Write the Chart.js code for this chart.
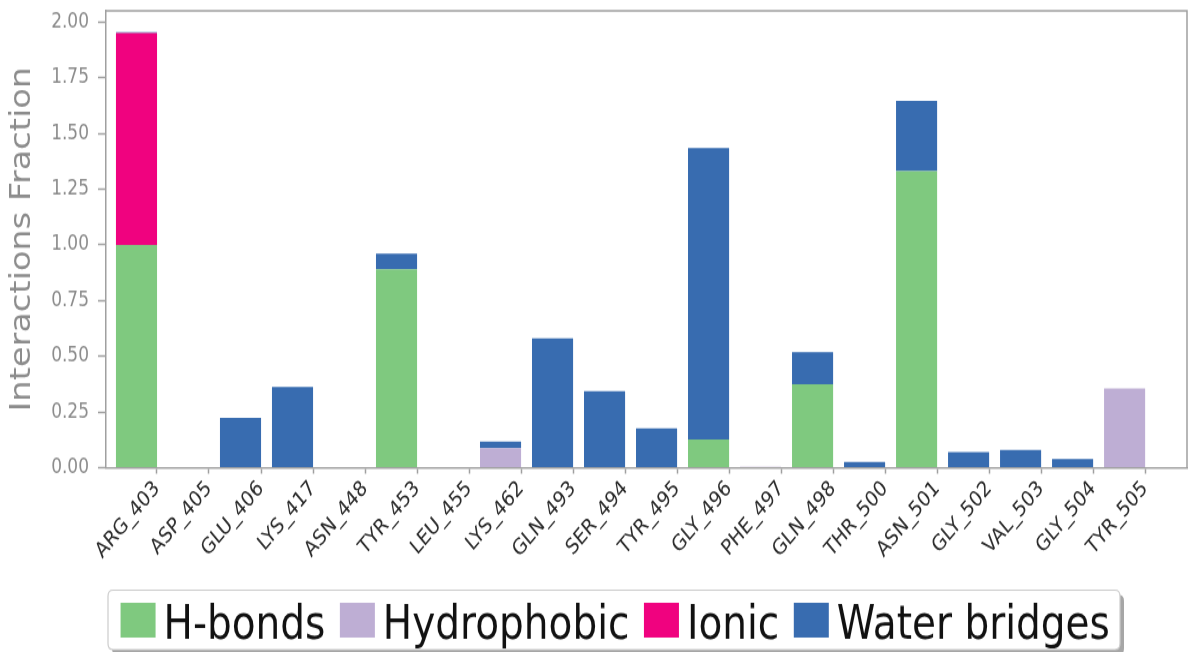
<!DOCTYPE html>
<html>
<head>
<meta charset="utf-8">
<script src="https://cdn.jsdelivr.net/npm/chart.js@4.4.1/dist/chart.umd.min.js"></script>
<style>
  html, body { margin: 0; padding: 0; background: #ffffff; overflow: hidden; }
  #wrap {
    position: absolute; left: 0; top: 0;
    width: 1190px; height: 543px;
    transform-origin: 0 0;
    transform: scaleY(1.2007);
  }
</style>
</head>
<body>
<div id="wrap"><canvas id="chart"></canvas></div>
<script>
// Protein residues in contact with the ligand
const residues = ['ARG_403', 'ASP_405', 'GLU_406', 'LYS_417', 'ASN_448', 'TYR_453', 'LEU_455',
  'LYS_462', 'GLN_493', 'SER_494', 'TYR_495', 'GLY_496', 'PHE_497', 'GLN_498', 'THR_500',
  'ASN_501', 'GLY_502', 'VAL_503', 'GLY_504', 'TYR_505'];

// Interaction fractions per residue, one list per interaction type
const hBonds       = [1.00, 0, 0, 0, 0, 0.89, 0, 0, 0, 0, 0, 0.127, 0, 0.375, 0, 1.331, 0, 0, 0, 0];
const hydrophobic  = [0, 0, 0, 0, 0, 0, 0, 0.087, 0, 0, 0, 0, 0.004, 0, 0, 0, 0, 0, 0, 0.355];
const ionic        = [0.95, 0, 0, 0, 0, 0, 0, 0, 0, 0, 0, 0, 0, 0, 0, 0, 0, 0, 0, 0];
const waterBridges = [0.005, 0, 0.223, 0.362, 0, 0.07, 0, 0.03, 0.58, 0.343, 0.176, 1.308, 0, 0.144, 0.025, 0.315, 0.07, 0.079, 0.039, 0];

// Y-axis tick values
const yTickValues = [0, 0.25, 0.5, 0.75, 1.0, 1.25, 1.5, 1.75, 2.0];

const seriesNames  = ['H-bonds', 'Hydrophobic', 'Ionic', 'Water bridges'];
const seriesColors = ['#7fc97f', '#beaed4', '#f0027f', '#386cb0'];
const seriesValues = [hBonds, hydrophobic, ionic, waterBridges];

const AXIS_GREY = '#a0a0a0';
const FONT = "'DejaVu Sans', 'Liberation Sans', sans-serif";
const LEGEND_FONT_SIZE = 39;
const LEGEND_PAD = 38;
const SWATCH = { w: 35, h: 29, gap: 8 };

const datasets = seriesNames.map((name, s) => ({
  label: name,
  data: residues.map((_, i) => ({ x: i, y: seriesValues[s][i] })),
  backgroundColor: seriesColors[s],
  borderWidth: 0,
  barPercentage: 0.79,
  categoryPercentage: 1.0
}));

function roundRect(ctx, x, y, w, h, r) {
  ctx.beginPath();
  ctx.moveTo(x + r, y);
  ctx.lineTo(x + w - r, y);
  ctx.quadraticCurveTo(x + w, y, x + w, y + r);
  ctx.lineTo(x + w, y + h - r);
  ctx.quadraticCurveTo(x + w, y + h, x + w - r, y + h);
  ctx.lineTo(x + r, y + h);
  ctx.quadraticCurveTo(x, y + h, x, y + h - r);
  ctx.lineTo(x, y + r);
  ctx.quadraticCurveTo(x, y, x + r, y);
  ctx.closePath();
}

// Axes frame (top/right spines), legend box and legend colour swatches
const framePlugin = {
  id: 'frame',
  afterLayout(chart) {
    // keep the legend on one row, centred on the boxed area
    const lg = chart.legend;
    lg.left = 60;
    lg.right = 1194;
    lg.width = lg.right - lg.left;
    lg.top = chart.height - 79;
  },
  beforeDraw(chart) {
    const ctx = chart.ctx;
    const x = 108, w = 1012, y = chart.height - 51.5, h = 49.5;
    ctx.save();
    ctx.fillStyle = 'rgba(0,0,0,0.35)';
    roundRect(ctx, x + 4, y + 4, w, h, 5);
    ctx.fill();
    ctx.fillStyle = '#ffffff';
    roundRect(ctx, x, y, w, h, 5);
    ctx.fill();
    ctx.strokeStyle = '#cccccc';
    ctx.lineWidth = 1.2;
    ctx.stroke();
    ctx.restore();
  },
  afterDatasetsDraw(chart) {
    const { ctx, chartArea: a } = chart;
    ctx.save();
    ctx.strokeStyle = AXIS_GREY;
    ctx.lineWidth = 1.5;
    ctx.beginPath();
    ctx.moveTo(a.left, a.top);
    ctx.lineTo(a.right, a.top);
    ctx.lineTo(a.right, a.bottom);
    ctx.stroke();
    ctx.restore();
  },
  afterDraw(chart) {
    // swatches placed just left of each legend label, following the legend's own item layout
    const lg = chart.legend;
    const ctx = chart.ctx;
    const pad = LEGEND_PAD;
    let x = (lg.left + pad + lg.right - lg.lineWidths[0]) / 2;
    const yMid = chart.height - 26.5;
    ctx.save();
    lg.legendItems.forEach((item, i) => {
      const textX = x + LEGEND_FONT_SIZE / 2;
      ctx.fillStyle = item.fillStyle;
      ctx.fillRect(textX - SWATCH.gap - SWATCH.w, yMid - SWATCH.h / 2, SWATCH.w, SWATCH.h);
      x += lg.legendHitBoxes[i].width + pad;
    });
    ctx.restore();
  }
};

new Chart(document.getElementById('chart'), {
  type: 'bar',
  data: { datasets },
  plugins: [framePlugin],
  options: {
    responsive: true,
    maintainAspectRatio: false,
    animation: false,
    layout: { padding: { left: 0, right: 3, top: 9, bottom: 2 } },
    plugins: {
      tooltip: { enabled: false },
      legend: {
        position: 'bottom',
        align: 'center',
        maxHeight: 53.5,
        labels: {
          boxWidth: 0,
          boxHeight: 0,
          padding: LEGEND_PAD,
          color: '#111111',
          font: { family: FONT, size: LEGEND_FONT_SIZE }
        }
      }
    },
    scales: {
      x: {
        type: 'linear',
        stacked: true,
        offset: false,
        min: -0.5865,
        max: 20.2,
        afterBuildTicks(scale) {
          scale.ticks = residues.map((_, i) => ({ value: i + 0.394 }));
        },
        afterFit(scale) { scale.height = 98; },
        grid: {
          display: true,
          offset: false,
          drawOnChartArea: false,
          drawTicks: true,
          tickLength: 5,
          tickWidth: 1.5,
          color: AXIS_GREY
        },
        border: { display: true, color: AXIS_GREY, width: 1.5 },
        ticks: {
          autoSkip: false,
          minRotation: 45,
          maxRotation: 45,
          padding: 2,
          color: '#2a2a2a',
          font: { family: FONT, size: 18 },
          callback: (v, idx) => residues[idx]
        }
      },
      y: {
        stacked: true,
        min: 0,
        max: 2.05,
        afterBuildTicks(scale) {
          scale.ticks = yTickValues.map(v => ({ value: v }));
        },
        afterFit(scale) {
          scale.width = 106;
          scale.paddingTop = 0;
          scale.paddingBottom = 0;
        },
        grid: {
          display: true,
          drawOnChartArea: false,
          drawTicks: true,
          tickLength: 8,
          tickWidth: 1.5,
          color: AXIS_GREY
        },
        border: { display: true, color: AXIS_GREY, width: 1.5 },
        ticks: {
          padding: 9,
          color: '#8c8c8c',
          font: { family: FONT, size: 17 },
          callback: v => Number(v).toFixed(2)
        },
        title: {
          display: true,
          text: 'Interactions Fraction',
          color: '#8c8c8c',
          padding: { top: 6, bottom: 0 },
          font: { family: FONT, size: 28, weight: 'normal' }
        }
      }
    }
  }
});
</script>
</body>
</html>
